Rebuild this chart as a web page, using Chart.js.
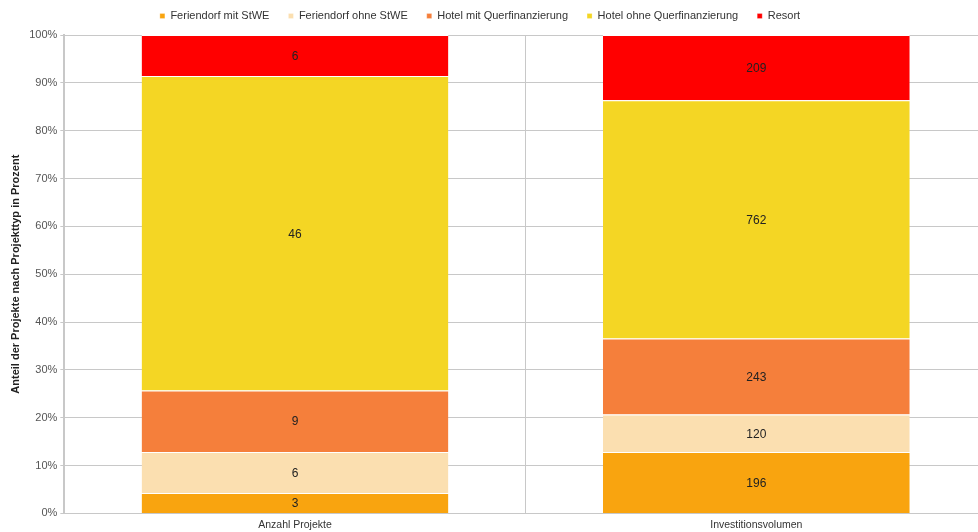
<!DOCTYPE html>
<html>
<head>
<meta charset="utf-8">
<script src="https://cdn.jsdelivr.net/npm/chart.js@4"></script>
<style>
  html, body { margin: 0; padding: 0; background: #fff; overflow: hidden; }
  #wrap { width: 987px; height: 532px; }
</style>
</head>
<body>
<div id="wrap"><canvas id="chart"></canvas></div>
<script>
// ===== DATA =====
const categories = ["Anzahl Projekte", "Investitionsvolumen"];
const seriesNames = ["Feriendorf mit StWE", "Feriendorf ohne StWE", "Hotel mit Querfinanzierung", "Hotel ohne Querfinanzierung", "Resort"];
const feriendorfMit = [3, 196];
const feriendorfOhne = [6, 120];
const hotelMit = [9, 243];
const hotelOhne = [46, 762];
const resort = [6, 209];
const yTicks = [0, 10, 20, 30, 40, 50, 60, 70, 80, 90, 100];

const colors = ["#F9A40F", "#FBDFB0", "#F57F3B", "#F4D624", "#FF0000"];
const rawSeries = [feriendorfMit, feriendorfOhne, hotelMit, hotelOhne, resort];

// totals per category -> percentage shares
const totals = categories.map((_, i) => rawSeries.reduce((s, arr) => s + arr[i], 0));

const datasets = rawSeries.map((arr, k) => ({
  label: seriesNames[k],
  data: arr.map((v, i) => v / totals[i] * 100),
  raw: arr,
  backgroundColor: colors[k],
  borderColor: "#ffffff",
  borderWidth: { top: 1, bottom: 0, left: 0, right: 0 },
  borderSkipped: false,
  barPercentage: 0.665,
  categoryPercentage: 1
}));

const FONT = "'Liberation Sans', Arial, sans-serif";
const LEGEND_PAD = 19;

// draw raw values in the middle of each segment
const valueLabels = {
  id: "valueLabels",
  afterDatasetsDraw(chart) {
    const ctx = chart.ctx;
    ctx.save();
    ctx.font = "12px " + FONT;
    ctx.fillStyle = "#222";
    ctx.textAlign = "center";
    ctx.textBaseline = "middle";
    chart.data.datasets.forEach((ds, k) => {
      chart.getDatasetMeta(k).data.forEach((bar, i) => {
        const mid = (bar.y + bar.base) / 2;
        ctx.fillText(String(ds.raw[i]), bar.x, mid + 1);
      });
    });
    ctx.restore();
  }
};

// keep wide spacing between legend items but a compact legend row
const legendTight = {
  id: "legendTight",
  afterInit(chart) {
    const legend = chart.legend;
    const fit = legend.fit;
    legend.fit = function () {
      fit.call(this);
      this.height = 35;
    };
  },
  afterLayout(chart) {
    const legend = chart.legend;
    const shift = 16 - LEGEND_PAD - 5.5;
    legend.bottom += shift - legend.top;
    legend.top = shift;
    legend.left -= 18;
    legend.right -= 18;
  }
};

new Chart(document.getElementById("chart"), {
  type: "bar",
  data: { labels: categories, datasets },
  options: {
    responsive: true,
    maintainAspectRatio: false,
    animation: false,
    layout: { padding: { left: 9, right: 0, top: 0, bottom: 0 } },
    plugins: {
      legend: {
        position: "top",
        labels: {
          boxWidth: 5,
          boxHeight: 5,
          padding: LEGEND_PAD,
          color: "#333",
          font: { size: 11, family: FONT }
        }
      },
      tooltip: { enabled: false }
    },
    scales: {
      x: {
        stacked: true,
        afterFit(scale) { scale.height -= 4; },
        grid: { color: "#c8c8c8", offset: true, drawTicks: false, lineWidth: 1 },
        border: { color: "#c8c8c8" },
        ticks: {
          color: "#333",
          padding: 5,
          font: { size: 10.5, family: FONT }
        }
      },
      y: {
        stacked: true,
        min: 0,
        max: 100,
        afterBuildTicks(axis) { axis.ticks = yTicks.map(v => ({ value: v })); },
        grid: { color: "#c8c8c8", drawTicks: true, tickLength: 4 },
        border: { color: "#c8c8c8", width: 2 },
        ticks: {
          color: "#555",
          padding: 3,
          callback: v => v + "%",
          font: { size: 11, family: FONT }
        },
        title: {
          display: true,
          text: "Anteil der Projekte nach Projekttyp in Prozent",
          color: "#222",
          padding: { top: 0, bottom: 4 },
          font: { size: 11, weight: "bold", family: FONT }
        }
      }
    }
  },
  plugins: [valueLabels, legendTight]
});
</script>
</body>
</html>
